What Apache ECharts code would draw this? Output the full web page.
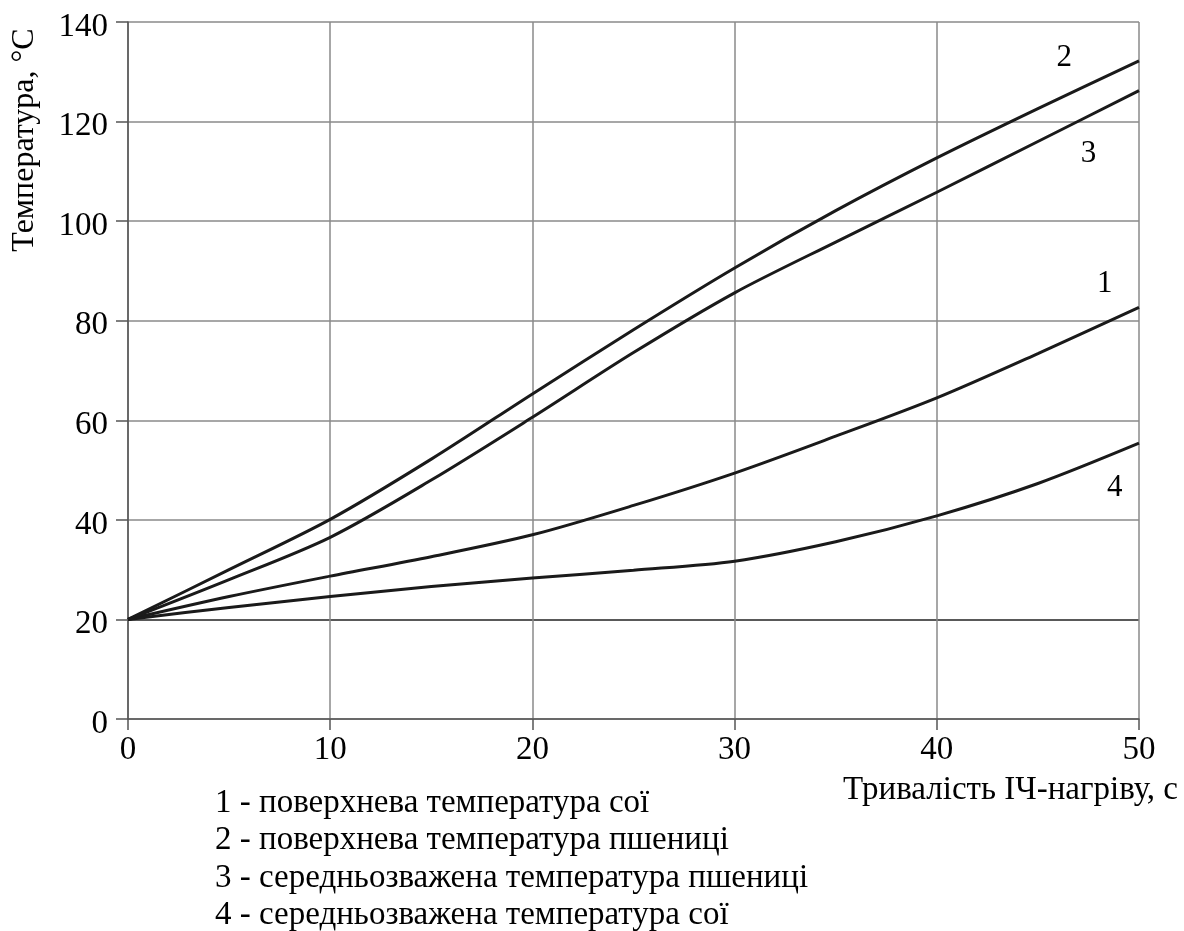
<!DOCTYPE html>
<html>
<head>
<meta charset="utf-8">
<script src="https://cdn.jsdelivr.net/npm/echarts@6/dist/echarts.min.js"></script>
<style>
  html, body { margin: 0; padding: 0; background: #fff; }
  #chart { width: 1184px; height: 931px; }
</style>
</head>
<body>
<div id="chart"></div>
<script>
// Heating time, s
const timeS = [0, 5, 10, 15, 20, 25, 30, 35, 40, 45, 50];

// Temperature curves, °C
const soySurface   = [20, 24.6, 28.7, 32.6, 37.0, 42.9, 49.4, 56.8, 64.5, 73.4, 82.7];   // 1
const wheatSurface = [20, 30.0, 40.1, 52.2, 65.3, 78.2, 90.6, 102.1, 112.7, 122.6, 132.2]; // 2
const wheatMean    = [20, 28.0, 36.5, 48.0, 60.6, 73.6, 85.6, 95.8, 105.8, 116.0, 126.2];  // 3
const soyMean      = [20, 22.4, 24.6, 26.6, 28.3, 29.9, 31.7, 35.6, 40.8, 47.3, 55.4];     // 4

const curveNames = ['1', '2', '3', '4'];
const legendLines = [
  '1 - поверхнева температура сої',
  '2 - поверхнева температура пшениці',
  '3 - середньозважена температура пшениці',
  '4 - середньозважена температура сої'
];
const xTicks = [0, 10, 20, 30, 40, 50];
const yTicks = [0, 20, 40, 60, 80, 100, 120, 140];
const xTitle = 'Тривалість ІЧ-нагріву, с';
const yTitle = 'Температура, °С';

// Curve number placement (time, temperature)
const curveTags = [[48.3, 87.4], [46.3, 132.8], [47.5, 113.6], [48.8, 46.4]];

const FONT = '"Liberation Serif", "DejaVu Serif", serif';
const FS = 33;
const seriesData = [soySurface, wheatSurface, wheatMean, soyMean];

const chart = echarts.init(document.getElementById('chart'), null, { renderer: 'canvas' });

const gridColors = yTicks.map(v => (v === 20 ? '#222' : '#8a8a8a'));

const option = {
  backgroundColor: '#ffffff',
  animation: false,
  grid: { left: 128, right: 45, top: 22, bottom: 212, containLabel: false },
  xAxis: {
    type: 'value',
    min: xTicks[0],
    max: xTicks[xTicks.length - 1],
    interval: 10,
    axisLine: { show: true, onZero: false, lineStyle: { color: '#555', width: 1.5 } },
    axisTick: { show: true, inside: false, length: 11, lineStyle: { color: '#555', width: 1.5 } },
    axisLabel: { color: '#000', fontFamily: FONT, fontSize: FS, margin: 15 },
    splitLine: { show: true, lineStyle: { color: '#8a8a8a', width: 1.5 } }
  },
  yAxis: {
    type: 'value',
    min: yTicks[0],
    max: yTicks[yTicks.length - 1],
    interval: 20,
    axisLine: { show: true, onZero: false, lineStyle: { color: '#555', width: 1.5 } },
    axisTick: { show: true, inside: false, length: 12, lineStyle: { color: '#555', width: 1.5 } },
    axisLabel: {
      color: '#000', margin: 20,
      formatter: v => '{t|' + v + '}',
      rich: { t: { fontFamily: FONT, fontSize: FS, color: '#000', padding: [10, 0, 0, 0] } }
    },
    splitLine: { show: true, lineStyle: { color: gridColors, width: 1.5 } }
  },
  series: seriesData.map((vals, i) => ({
    name: curveNames[i],
    type: 'line',
    data: timeS.map((t, k) => [t, vals[k]]),
    smooth: 0.3,
    showSymbol: false,
    symbol: 'none',
    lineStyle: { color: '#1a1a1a', width: 3 },
    z: 3,
    markPoint: {
      symbol: 'circle',
      symbolSize: 0,
      silent: true,
      data: [{ coord: curveTags[i] }],
      label: {
        show: true,
        formatter: curveNames[i],
        position: 'inside',
        color: '#000',
        fontFamily: FONT,
        fontSize: 31
      }
    }
  })),
  graphic: [
    {
      type: 'text',
      x: 25, y: 140,
      rotation: Math.PI / 2,
      style: {
        text: yTitle,
        fill: '#000',
        font: '32px ' + FONT,
        textAlign: 'center',
        textVerticalAlign: 'middle'
      }
    },
    {
      type: 'text',
      x: 1178, y: 790,
      style: {
        text: xTitle,
        fill: '#000',
        font: FS + 'px ' + FONT,
        textAlign: 'right',
        textVerticalAlign: 'middle'
      }
    }
  ].concat(legendLines.map((t, i) => ({
    type: 'text',
    x: 215, y: 803 + i * 37.5,
    style: {
      text: t,
      fill: '#000',
      font: FS + 'px ' + FONT,
      textAlign: 'left',
      textVerticalAlign: 'middle'
    }
  })))
};

chart.setOption(option);
</script>
</body>
</html>
